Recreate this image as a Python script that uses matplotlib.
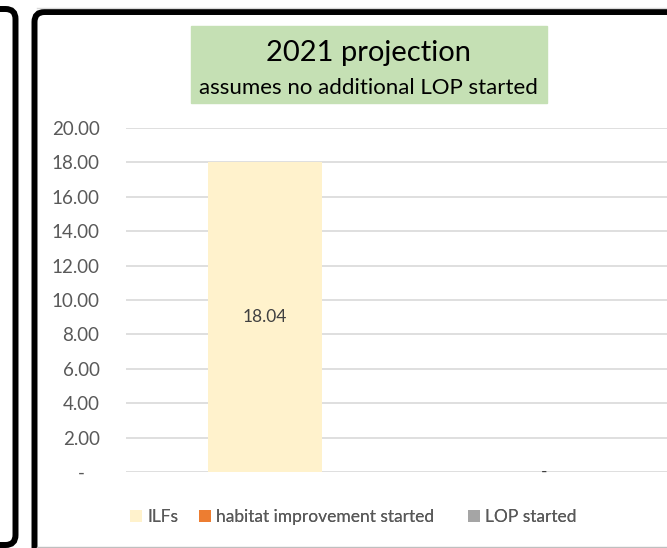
import numpy as np
import matplotlib.pyplot as plt
from matplotlib.patches import FancyBboxPatch, Rectangle
from matplotlib.lines import Line2D
from matplotlib.transforms import IdentityTransform

plt.rcParams['font.family'] = ['Lato', 'DejaVu Sans']

# data
categories = ["", ""]
ilfs = [18.04, 0]
habitat = [0, 0]
lop = [0, 0]
series = ["ILFs", "habitat improvement started", "LOP started"]
colors = ["#FFF2CC", "#ED7D31", "#A5A5A5"]
yticks = [0, 2, 4, 6, 8, 10, 12, 14, 16, 18, 20]

W, H = 667, 548
fig = plt.figure(figsize=(W / 100, H / 100), dpi=100)


def px(x, y):
    # image pixel coords (top-left origin) -> display coords
    return x, H - y


# plot area
ax = fig.add_axes([126 / W, 1 - 472 / H, (683 - 126) / W, 344 / H])
x = np.arange(len(categories))
width = 0.41
b1 = ax.bar(x, ilfs, width, color=colors[0], label=series[0], zorder=2)
bottom2 = np.array(ilfs)
b2 = ax.bar(x, habitat, width, bottom=bottom2, color=colors[1], label=series[1], zorder=2)
bottom3 = bottom2 + np.array(habitat)
b3 = ax.bar(x, lop, width, bottom=bottom3, color=colors[2], label=series[2], zorder=2)

for xi, v in zip(x, ilfs):
    txt = "%.2f" % v if v else "-"
    ax.text(xi, v / 2, txt, ha="center", va="center", fontsize=12.5, color="#404040")

ax.set_xlim(-0.5, 1.5)
ax.set_ylim(0, 20)
ax.set_yticks(yticks)
ax.set_yticklabels(["%.2f" % t if t else "-   " for t in yticks])
ax.tick_params(axis="y", length=0, pad=19, labelsize=13.5, labelcolor="#595959")
ax.set_xticks([])
ax.yaxis.grid(True, color="#D9D9D9", linewidth=1.2)
ax.set_axisbelow(True)
for s in ax.spines.values():
    s.set_visible(False)

# legend entries, one per series, placed like excel spreads them
for handle, name, lx_ in zip([b1, b2, b3], series, [130, 199, 468]):
    leg = fig.legend(handles=[handle], labels=[name], loc="center left",
                     bbox_to_anchor=(lx_ / W, 1 - 517 / H), frameon=False,
                     fontsize=12.5, labelcolor="#595959", handlelength=0.7, handleheight=0.7,
                     handletextpad=0.3, borderpad=0, borderaxespad=0)
    fig.add_artist(leg)

# title box
tx, ty = px(191, 103)
fig.patches.append(Rectangle((tx, ty), 547 - 191, 103 - 26, color="#C5E0B4",
                             transform=IdentityTransform(), figure=fig, zorder=0))
fig.text(368 / W, 1 - 53 / H, "2021 projection", ha="center", va="center", fontsize=21)
fig.text(368 / W, 1 - 88 / H, "assumes no additional LOP started", ha="center", va="center",
         fontsize=16)

# chart frames
fx, fy = px(34.5, 560)
fig.patches.append(FancyBboxPatch((fx, fy), 700, 560 - 12, boxstyle="round,pad=0,rounding_size=10",
                                  fill=False, edgecolor="black", linewidth=4.3,
                                  transform=IdentityTransform(), figure=fig))
lx, ly = px(-40, 545)
fig.patches.append(FancyBboxPatch((lx, ly), 55.5, 545 - 9, boxstyle="round,pad=0,rounding_size=10",
                                  fill=False, edgecolor="black", linewidth=4.3,
                                  transform=IdentityTransform(), figure=fig))
fig.lines.append(Line2D([37 / W, 1], [1 - 547 / H, 1 - 547 / H], color="#BFBFBF", linewidth=1,
                        transform=fig.transFigure))
fig.lines.append(Line2D([37 / W, 1], [1 - 8 / H, 1 - 8 / H], color="#D9D9D9", linewidth=1,
                        transform=fig.transFigure))

fig.savefig("out.png", dpi=100)
